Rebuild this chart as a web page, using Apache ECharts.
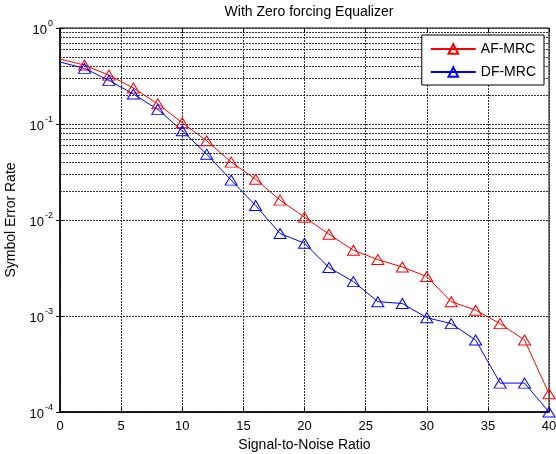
<!DOCTYPE html>
<html>
<head>
<meta charset="utf-8">
<script src="https://cdn.jsdelivr.net/npm/echarts@6/dist/echarts.min.js"></script>
<style>html,body{margin:0;padding:0;background:#fff}#c{width:556px;height:454px}</style>
</head>
<body>
<div id="c"></div>
<script>
var snr = [0, 2, 4, 6, 8, 10, 12, 14, 16, 18, 20, 22, 24, 26, 28, 30, 32, 34, 36, 38, 40];
var afMrc = [0.475, 0.411, 0.323, 0.237, 0.162, 0.103, 0.0668, 0.0401, 0.0266, 0.0161, 0.0107, 0.00711, 0.00484, 0.00387, 0.00324, 0.00258, 0.00141, 0.00115, 0.000833, 0.000562, 0.000155];
var dfMrc = [0.442, 0.380, 0.285, 0.205, 0.142, 0.0849, 0.0485, 0.0260, 0.01416, 0.00723, 0.00573, 0.0032, 0.00228, 0.00141, 0.00135, 0.00096, 0.000833, 0.000562, 0.0002, 0.0002, 0.0001];
var minorGrid = [2e-4,3e-4,4e-4,5e-4,6e-4,7e-4,8e-4,9e-4, 2e-3,3e-3,4e-3,5e-3,6e-3,7e-3,8e-3,9e-3, 2e-2,3e-2,4e-2,5e-2,6e-2,7e-2,8e-2,9e-2, 2e-1,3e-1,4e-1,5e-1,6e-1,7e-1,8e-1,9e-1];
var xTicks = [0, 5, 10, 15, 20, 25, 30, 35, 40];

var font = 'Liberation Sans, Arial, sans-serif';
function pts(vals) {
  return snr.map(function (x, i) {
    var p = {value: [x, vals[i]]};
    if (i === 0) p.symbol = 'none';
    return p;
  });
}
var gridStyle = {color: '#333', width: 1, type: [2, 1]};
var chart = echarts.init(document.getElementById('c'));
chart.setOption({
  backgroundColor: '#fff',
  animation: false,
  title: {
    text: 'With Zero forcing Equalizer',
    left: 304, top: 0, textAlign: 'center',
    textStyle: {fontFamily: font, fontSize: 14, fontWeight: 'normal', color: '#000'}
  },
  legend: {
    right: 12, top: 35, orient: 'vertical', z: 20,
    borderColor: '#000', borderWidth: 1, backgroundColor: '#fff',
    padding: [7, 8, 6, 8], itemGap: 9, itemWidth: 45, itemHeight: 12,
    textStyle: {fontFamily: font, fontSize: 14, color: '#000'},
    data: ['AF-MRC', 'DF-MRC']
  },
  grid: {left: 60, right: 7, top: 28, bottom: 42, show: true, borderColor: '#000', borderWidth: 1, outerBoundsMode: 'none', containLabel: false},
  xAxis: [{
    type: 'value', min: 0, max: 40, interval: 5,
    name: 'Signal-to-Noise Ratio', nameLocation: 'middle', nameGap: 23,
    nameTextStyle: {fontFamily: font, fontSize: 14, color: '#000'},
    axisLine: {lineStyle: {color: '#000', width: 1.5}},
    axisTick: {inside: true, length: 4, lineStyle: {color: '#000'}},
    axisLabel: {fontFamily: font, fontSize: 13, color: '#000', margin: 8},
    splitLine: {show: true, lineStyle: gridStyle}
  }, {
    type: 'value', min: 0, max: 40, interval: 5, position: 'top',
    axisLine: {show: false}, axisTick: {inside: true, length: 4, lineStyle: {color: '#000'}},
    axisLabel: {show: false}, splitLine: {show: false}
  }],
  yAxis: [{
    type: 'log', logBase: 10, min: 1e-4, max: 1,
    name: 'Symbol Error Rate', nameLocation: 'middle', nameGap: 38,
    nameTextStyle: {fontFamily: font, fontSize: 14, color: '#000'},
    axisLine: {lineStyle: {color: '#000', width: 1.5}},
    axisTick: {inside: true, length: 4, lineStyle: {color: '#000'}},
    axisLabel: {
      margin: 7,
      formatter: function (v) { return '{b|10}{s|' + Math.round(Math.log10(v)) + '}'; },
      rich: {
        b: {fontFamily: font, fontSize: 13, color: '#000', verticalAlign: 'bottom'},
        s: {fontFamily: font, fontSize: 9, color: '#000', verticalAlign: 'top', padding: [0, 0, 8, 1]}
      }
    },
    splitLine: {show: true, lineStyle: gridStyle}
  }, {
    type: 'log', logBase: 10, min: 1e-4, max: 1, position: 'right',
    axisLine: {show: false}, axisTick: {inside: true, length: 4, lineStyle: {color: '#000'}},
    axisLabel: {show: false}, splitLine: {show: false}
  }],
  series: [{
    name: 'AF-MRC', type: 'line', data: pts(afMrc), clip: false,
    symbol: 'triangle', symbolSize: [12, 10],
    lineStyle: {color: '#ff0000', width: 1},
    itemStyle: {color: 'rgba(255,255,255,0)', borderColor: '#ff0000', borderWidth: 1},
    markLine: {
      silent: true, symbol: 'none', label: {show: false},
      lineStyle: gridStyle, animation: false, z: 1,
      data: minorGrid.map(function (v) { return {yAxis: v}; })
    },
    z: 3
  }, {
    name: 'DF-MRC', type: 'line', data: pts(dfMrc), clip: false,
    symbol: 'triangle', symbolSize: [12, 10],
    lineStyle: {color: '#0000ff', width: 1},
    itemStyle: {color: 'rgba(255,255,255,0)', borderColor: '#0000ff', borderWidth: 1},
    z: 3
  }]
});
</script>
</body>
</html>
